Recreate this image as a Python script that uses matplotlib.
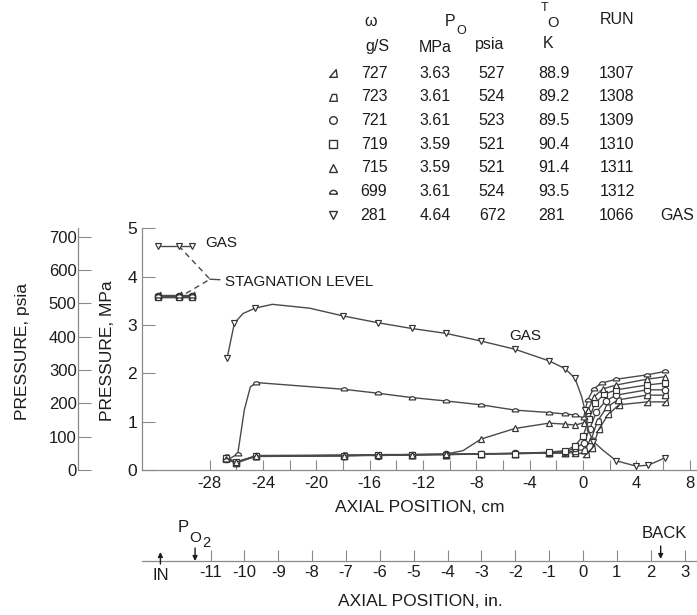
import matplotlib
matplotlib.use('Agg')
import matplotlib.pyplot as plt
from matplotlib.path import Path
from matplotlib.markers import MarkerStyle
from matplotlib.transforms import Affine2D

plt.rcParams['font.family'] = ['Liberation Sans', 'DejaVu Sans']

# ---------------- table data ----------------
flow_gs = [727, 723, 721, 719, 715, 699, 281]
p0_mpa = [3.63, 3.61, 3.61, 3.59, 3.59, 3.61, 4.64]
p0_psia = [527, 524, 523, 521, 521, 524, 672]
t0_k = ['88.9', '89.2', '89.5', '90.4', '91.4', '93.5', '281']
runs = [1307, 1308, 1309, 1310, 1311, 1312, 1066]
run_notes = ['', '', '', '', '', '', 'GAS']

# ---------------- profile data (axial position cm, pressure MPa) ----------------
x_1307 = [-26.75, -26.05, -24.5, -17.9, -15.4, -12.85, -10.3, -7.65, -5.1, -2.55, -1.35, -0.6,
          0.2, 0.7, 1.2, 1.9, 2.7, 4.8, 6.15]
y_1307 = [0.24, 0.14, 0.29, 0.30, 0.31, 0.31, 0.32, 0.33, 0.34, 0.35, 0.35, 0.36,
          0.33, 0.45, 0.85, 1.15, 1.35, 1.41, 1.41]

x_1308 = [-26.75, -26.05, -24.5, -17.9, -15.4, -12.85, -10.3, -7.65, -5.1, -2.55, -1.35, -0.6,
          0.1, 0.6, 1.1, 1.8, 2.6, 4.8, 6.15]
y_1308 = [0.26, 0.16, 0.30, 0.31, 0.31, 0.32, 0.32, 0.33, 0.34, 0.35, 0.36, 0.40,
          0.42, 0.62, 1.02, 1.30, 1.45, 1.55, 1.55]

x_1309 = [-26.75, -26.05, -24.5, -17.9, -15.4, -12.85, -10.3, -7.65, -5.1, -2.55, -1.35, -0.6,
          0.05, 0.5, 1.0, 1.7, 2.5, 4.8, 6.15]
y_1309 = [0.22, 0.15, 0.29, 0.30, 0.30, 0.31, 0.33, 0.33, 0.35, 0.36, 0.38, 0.45,
          0.55, 0.85, 1.20, 1.43, 1.55, 1.66, 1.66]

x_1310 = [-26.75, -26.05, -24.5, -17.9, -15.4, -12.85, -10.3, -7.65, -5.1, -2.55, -1.35, -0.6,
          0.0, 0.45, 0.9, 1.6, 2.5, 4.8, 6.15]
y_1310 = [0.25, 0.17, 0.28, 0.29, 0.31, 0.32, 0.32, 0.34, 0.34, 0.37, 0.40, 0.50,
          0.70, 1.05, 1.38, 1.57, 1.66, 1.76, 1.80]

x_1311 = [-26.75, -26.05, -24.5, -17.9, -15.4, -12.85, -10.3, -9.0, -7.65, -5.1, -2.55, -1.35, -0.6,
          0.1, 0.4, 0.85, 1.5, 2.5, 4.8, 6.15]
y_1311 = [0.23, 0.16, 0.29, 0.30, 0.32, 0.32, 0.33, 0.40, 0.64, 0.86, 0.97, 0.95, 0.93,
          0.98, 1.25, 1.52, 1.68, 1.76, 1.88, 1.93]
mark_1311 = [0, 1, 2, 3, 4, 5, 6, 8, 9, 10, 11, 12, 13, 14, 15, 16, 17, 18, 19]

x_1312 = [-26.75, -25.9, -25.4, -24.95, -24.5, -17.9, -15.4, -12.85, -10.3, -7.65, -5.1, -2.55, -1.35, -0.6,
          0.05, 0.35, 0.8, 1.4, 2.5, 4.8, 6.15]
y_1312 = [0.20, 0.33, 1.25, 1.72, 1.81, 1.67, 1.59, 1.50, 1.43, 1.35, 1.24, 1.19, 1.16, 1.14,
          1.08, 1.45, 1.68, 1.80, 1.88, 1.97, 2.04]
mark_1312 = [0, 1, 4, 5, 6, 7, 8, 9, 10, 11, 12, 13, 14, 15, 16, 17, 18, 19, 20]

x_gas = [-26.7, -26.15, -25.5, -24.6, -23.3, -20.5, -18.0, -15.4, -12.85, -10.3, -7.65, -5.1,
         -2.55, -1.35, -0.6, -0.1, 0.15, 0.4, 0.77, 1.5, 2.5, 4.0, 4.9, 6.15]
y_gas = [2.31, 3.04, 3.24, 3.35, 3.43, 3.35, 3.19, 3.05, 2.93, 2.83, 2.67, 2.50,
         2.26, 2.10, 1.90, 1.52, 1.24, 0.83, 0.59, 0.41, 0.19, 0.08, 0.10, 0.25]
mark_gas = [0, 1, 3, 6, 7, 8, 9, 10, 11, 12, 13, 14, 16, 18, 20, 21, 22, 23]

cm_ticks = [-28, -24, -20, -16, -12, -8, -4, 0, 4, 8]
mpa_ticks = [0, 1, 2, 3, 4, 5]
psia_ticks = [0, 100, 200, 300, 400, 500, 600, 700]
inch_ticks = [-11, -10, -9, -8, -7, -6, -5, -4, -3, -2, -1, 0, 1, 2, 3]

# ---------------- markers ----------------
M_RTRI = MarkerStyle(Path([(-1, -1), (1, -1), (0.7, 1), (-1, -1)],
                          [Path.MOVETO, Path.LINETO, Path.LINETO, Path.CLOSEPOLY]))
M_TRAP = MarkerStyle(Path([(-1, -1), (1, -1), (0.8, 0.8), (-0.3, 0.8), (-1, -1)],
                          [Path.MOVETO, Path.LINETO, Path.LINETO, Path.LINETO, Path.CLOSEPOLY]))
M_DOME = MarkerStyle(Path.unit_circle_righthalf(),
                     transform=Affine2D().rotate_deg(90).translate(0, -0.22))
markers = [M_RTRI, M_TRAP, 'o', 's', '^', M_DOME, 'v']

TXT = '#1c1c1c'
LINE = '#4a4a4a'
SPINE = '#8a8a8a'

W, H = 697, 615
fig = plt.figure(figsize=(W / 100, H / 100), dpi=100)
fig.patch.set_facecolor('white')

AX_L, AX_R, AX_T, AX_B = 142, 696, 228.5, 470
ax = fig.add_axes([AX_L / W, 1 - AX_B / H, (AX_R - AX_L) / W, (AX_B - AX_T) / H])
ax.set_facecolor('none')
XLIM = (-33.08, 8.48)
ax.set_xlim(*XLIM)
ax.set_ylim(0, 5.0)
for s in ['top', 'right']:
    ax.spines[s].set_visible(False)
for s in ['left', 'bottom']:
    ax.spines[s].set_color(SPINE)
    ax.spines[s].set_linewidth(0.9)

ax.set_xticks(cm_ticks)
ax.set_xticklabels([str(v) for v in cm_ticks])
ax.set_xticks([v + 2 for v in cm_ticks[:-1]], minor=True)
ax.tick_params(axis='x', which='both', direction='in', length=7, width=0.8, color=SPINE,
               labelsize=12, pad=4.5, labelcolor=TXT)
ax.set_yticks(mpa_ticks)
ax.tick_params(axis='y', direction='in', length=9, width=0.8, color=SPINE,
               labelsize=12.5, pad=3.6, labelcolor=TXT)

# psia axis
ax2 = ax.twinx()
ax2.set_ylim(0, 5.0 * 145.038)
for s in ['top', 'right', 'bottom']:
    ax2.spines[s].set_visible(False)
ax2.spines['left'].set_visible(True)
ax2.spines['left'].set_position(('axes', (78 - AX_L) / (AX_R - AX_L)))
ax2.spines['left'].set_color(SPINE)
ax2.spines['left'].set_linewidth(0.9)
ax2.yaxis.set_ticks_position('left')
ax2.set_yticks(psia_ticks)
ax2.tick_params(axis='y', direction='in', length=9, width=0.8, color=SPINE,
                labelsize=12, pad=1.0, labelcolor=TXT)

line_kw = dict(color=LINE, lw=1.0, mfc='white', mec='#333333', mew=0.85, ms=4.6)

liquid = [(x_1307, y_1307, None), (x_1308, y_1308, None), (x_1309, y_1309, None),
          (x_1310, y_1310, None), (x_1311, y_1311, mark_1311), (x_1312, y_1312, mark_1312)]
for i, (xs, ys, mk) in enumerate(liquid):
    ax.plot(xs, ys, marker=markers[i], markevery=mk, zorder=3, **line_kw)
ax.plot(x_gas, y_gas, marker='v', markevery=mark_gas, zorder=3, **line_kw)

# stagnation level glyphs
STAG_X = [-31.9, -30.33, -29.35]
for i in range(len(p0_mpa)):
    ax.plot(STAG_X, [p0_mpa[i]] * len(STAG_X), marker=markers[i], zorder=3, **line_kw)
ax.plot([-30.33, -27.98, -30.0], [4.64, 3.95, 3.62], ls=(0, (4, 3)), color=LINE, lw=1.0)
ax.plot([-27.98, -27.25], [3.95, 3.94], color=LINE, lw=1.0)
ax.text(-28.36, 4.70, 'GAS', fontsize=11, color=TXT, ha='left', va='center')
ax.text(-26.86, 3.90, 'STAGNATION LEVEL', fontsize=11, color=TXT, ha='left', va='center')
ax.text(-4.35, 2.77, 'GAS', fontsize=11, color=TXT, ha='center', va='center')

# inch axis
axin = fig.add_axes([AX_L / W, 1 - 561 / H, (AX_R - AX_L) / W, 0.0001])
axin.set_facecolor('none')
axin.set_xlim(*XLIM)
axin.set_yticks([])
for s in ['top', 'right', 'left']:
    axin.spines[s].set_visible(False)
axin.spines['bottom'].set_color(SPINE)
axin.spines['bottom'].set_linewidth(0.9)
axin.set_xticks([v * 2.54 for v in inch_ticks])
axin.set_xticklabels([str(v) for v in inch_ticks])
axin.tick_params(axis='x', direction='in', length=8, width=0.8, color=SPINE,
                 labelsize=12, pad=3, labelcolor=TXT)

arrow = dict(arrowstyle='-|>', mutation_scale=7, lw=1.0, color=TXT, shrinkA=0, shrinkB=0)
axin.annotate('', xy=(-31.7, H - 552), xytext=(-31.7, H - 564),
              xycoords=('data', 'figure pixels'), textcoords=('data', 'figure pixels'), arrowprops=arrow)
axin.annotate('', xy=(-29.1, H - 561), xytext=(-29.1, H - 548),
              xycoords=('data', 'figure pixels'), textcoords=('data', 'figure pixels'), arrowprops=arrow)
axin.annotate('', xy=(5.83, H - 559), xytext=(5.83, H - 546),
              xycoords=('data', 'figure pixels'), textcoords=('data', 'figure pixels'), arrowprops=arrow)
axin.annotate('IN', xy=(-31.65, H - 575), xycoords=('data', 'figure pixels'),
              ha='center', va='center', fontsize=12, color=TXT)
axin.annotate('BACK', xy=(6.1, H - 533), xycoords=('data', 'figure pixels'),
              ha='center', va='center', fontsize=12, color=TXT)

# overlay in pixel coordinates for labels and table
ov = fig.add_axes([0, 0, 1, 1])
ov.set_xlim(0, W)
ov.set_ylim(H, 0)
ov.axis('off')

ov.text(183, 528, 'P', ha='center', va='center', fontsize=12, color=TXT)
ov.text(195, 538, 'O', ha='center', va='center', fontsize=11, color=TXT)
ov.text(206, 543, '2', ha='center', va='center', fontsize=10.5, color=TXT)

ov.text(420, 508, 'AXIAL POSITION, cm', ha='center', va='center', fontsize=12.5, color=TXT)
ov.text(420, 602, 'AXIAL POSITION, in.', ha='center', va='center', fontsize=12.5, color=TXT)
ov.text(107, 351, 'PRESSURE, MPa', ha='center', va='center', rotation=90, fontsize=12.5, color=TXT)
ov.text(23, 351, 'PRESSURE, psia', ha='center', va='center', rotation=90, fontsize=12.5, color=TXT)

# table header
hd = dict(ha='center', va='center', fontsize=11.5, color=TXT)
ov.text(371, 22, 'ω', **hd)
ov.text(377, 47, 'g/S', **hd)
ov.text(450, 22, 'P', **hd)
ov.text(461, 31, 'O', ha='center', va='center', fontsize=9, color=TXT)
ov.text(435, 47, 'MPa', **hd)
ov.text(490, 45, 'psia', **hd)
ov.text(545, 8, 'T', ha='center', va='center', fontsize=9, color=TXT)
ov.text(553, 23, 'O', ha='center', va='center', fontsize=10.5, color=TXT)
ov.text(548, 44, 'K', **hd)
ov.text(617, 20, 'RUN', **hd)

ROW_Y0, ROW_DY = 73, 23.7
for i in range(len(runs)):
    yy = ROW_Y0 + i * ROW_DY
    ov.plot([333], [yy], marker=markers[i], ls='none', mfc='white', mec='#333333', mew=1.0, ms=5.5)
    ov.text(374, yy, str(flow_gs[i]), **hd)
    ov.text(435, yy, f'{p0_mpa[i]:.2f}', **hd)
    ov.text(492, yy, str(p0_psia[i]), **hd)
    ov.text(538, yy, t0_k[i], ha='left', va='center', fontsize=11.5, color=TXT)
    ov.text(617, yy, str(runs[i]), **hd)
    if run_notes[i]:
        ov.text(677, yy, run_notes[i], **hd)

fig.savefig('out.png', dpi=100, facecolor='white')
